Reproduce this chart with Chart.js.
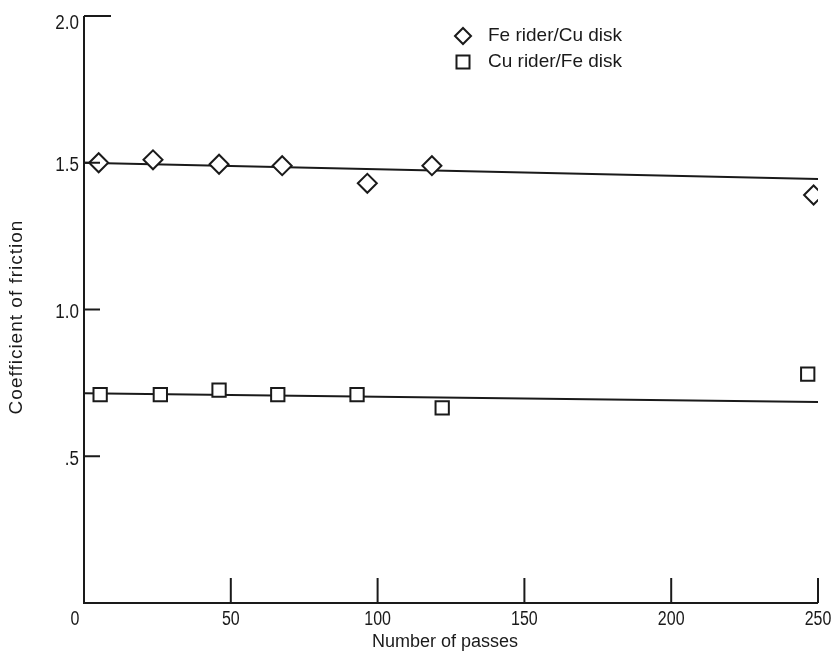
<!DOCTYPE html>
<html>
<head>
<meta charset="utf-8">
<script src="https://cdn.jsdelivr.net/npm/chart.js@4.4.1/dist/chart.umd.min.js"></script>
<style>
  html, body { margin: 0; padding: 0; background: #fff; }
  #wrap { width: 836px; height: 654px; }
</style>
</head>
<body>
<div id="wrap"><canvas id="frictionChart" width="836" height="654"></canvas></div>
<script>
// datos
const seriesNames = ['Fe rider/Cu disk', 'Cu rider/Fe disk'];
const feCuPasses = [5, 23.5, 46, 67.5, 96.5, 118.5, 248.5];
const feCuFriction = [1.50, 1.51, 1.495, 1.49, 1.43, 1.49, 1.39];
const cuFePasses = [5.5, 26, 46, 66, 93, 122, 246.5];
const cuFeFriction = [0.71, 0.71, 0.725, 0.71, 0.71, 0.665, 0.78];
// rectas de ajuste (extremos)
const fitPasses = [0, 250];
const feCuFit = [1.50, 1.445];
const cuFeFit = [0.715, 0.685];
const xTicks = [0, 50, 100, 150, 200, 250];
const yTicks = [0.5, 1.0, 1.5, 2.0];
const yTickLabels = ['.5', '1.0', '1.5', '2.0'];
const xTitle = 'Number of passes';
const yTitle = 'Coefficient of friction';

const FONT = "'Liberation Sans', Arial, sans-serif";
const INK = '#1a1a1a';

const toPoints = (xs, ys) => xs.map((x, i) => ({ x: x, y: ys[i] }));

// texto estrechado horizontalmente (la fuente original es condensada)
function narrowText(ctx, text, x, y, align, squeeze) {
  ctx.save();
  ctx.translate(x, y);
  ctx.scale(squeeze, 1);
  ctx.textAlign = align;
  ctx.fillText(text, 0, 0);
  ctx.restore();
}

// dibuja ejes, marcas, etiquetas y leyenda a mano
const axesPlugin = {
  id: 'axesPlugin',
  afterDraw(chart) {
    const ctx = chart.ctx;
    const xs = chart.scales.x;
    const ys = chart.scales.y;
    const x0 = xs.getPixelForValue(0);
    const x1 = xs.getPixelForValue(250);
    const y0 = ys.getPixelForValue(0);
    const yTop = ys.getPixelForValue(2.0);

    ctx.save();
    ctx.strokeStyle = INK;
    ctx.fillStyle = INK;
    ctx.lineWidth = 2;
    ctx.beginPath();
    ctx.moveTo(x0, yTop);
    ctx.lineTo(x0, y0);
    ctx.lineTo(x1, y0);
    ctx.stroke();

    ctx.font = '20px ' + FONT;
    ctx.textBaseline = 'middle';

    // marcas y
    yTicks.forEach((v, i) => {
      const py = ys.getPixelForValue(v);
      const len = v === 2.0 ? 27 : 16;
      ctx.beginPath();
      ctx.moveTo(x0, py);
      ctx.lineTo(x0 + len, py);
      ctx.stroke();
      narrowText(ctx, yTickLabels[i], x0 - 5, py + (v === 2.0 ? 7 : 3), 'right', 0.85);
    });

    // marcas x
    xTicks.forEach(v => {
      const px = xs.getPixelForValue(v);
      if (v > 0) {
        ctx.beginPath();
        ctx.moveTo(px, y0);
        ctx.lineTo(px, y0 - 25);
        ctx.stroke();
      }
      narrowText(ctx, String(v), v === 0 ? px - 9 : px, y0 + 16, 'center', 0.8);
    });

    // titulos
    ctx.font = '18px ' + FONT;
    ctx.textAlign = 'center';
    ctx.fillText(xTitle, 445, y0 + 39);
    ctx.save();
    ctx.translate(17, 317);
    ctx.rotate(-Math.PI / 2);
    ctx.font = '19px ' + FONT;
    ctx.letterSpacing = '1px';
    ctx.fillText(yTitle, 0, 0);
    ctx.restore();

    // leyenda
    ctx.font = '19px ' + FONT;
    ctx.textAlign = 'left';
    const styles = ['rectRot', 'rect'];
    const radii = [8, 9.2];
    seriesNames.forEach((name, i) => {
      const ly = 36 + i * 26;
      ctx.lineWidth = 2;
      ctx.strokeStyle = INK;
      ctx.fillStyle = '#fff';
      Chart.helpers.drawPoint(ctx, { pointStyle: styles[i], radius: radii[i], borderWidth: 2 }, 463, ly);
      ctx.fillStyle = INK;
      ctx.fillText(name, 488, ly);
    });
    ctx.restore();
  }
};

const chart = new Chart(document.getElementById('frictionChart').getContext('2d'), {
  type: 'scatter',
  data: {
    datasets: [
      {
        label: seriesNames[0] + ' fit',
        type: 'line',
        data: toPoints(fitPasses, feCuFit),
        borderColor: INK,
        borderWidth: 2,
        pointRadius: 0,
        order: 2
      },
      {
        label: seriesNames[1] + ' fit',
        type: 'line',
        data: toPoints(fitPasses, cuFeFit),
        borderColor: INK,
        borderWidth: 2,
        pointRadius: 0,
        order: 2
      },
      {
        label: seriesNames[0],
        data: toPoints(feCuPasses, feCuFriction),
        pointStyle: 'rectRot',
        pointRadius: 9.5,
        pointBorderWidth: 2,
        borderColor: INK,
        backgroundColor: '#fff',
        order: 1
      },
      {
        label: seriesNames[1],
        data: toPoints(cuFePasses, cuFeFriction),
        pointStyle: 'rect',
        pointRadius: 9.4,
        pointBorderWidth: 2,
        borderColor: INK,
        backgroundColor: '#fff',
        order: 1
      }
    ]
  },
  options: {
    responsive: false,
    animation: false,
    layout: { padding: { left: 84, right: 18, top: 16, bottom: 51 } },
    scales: {
      x: { type: 'linear', min: 0, max: 250, display: false },
      y: { type: 'linear', min: 0, max: 2.0, display: false }
    },
    plugins: {
      legend: { display: false },
      tooltip: { enabled: false }
    }
  },
  plugins: [axesPlugin]
});
</script>
</body>
</html>
